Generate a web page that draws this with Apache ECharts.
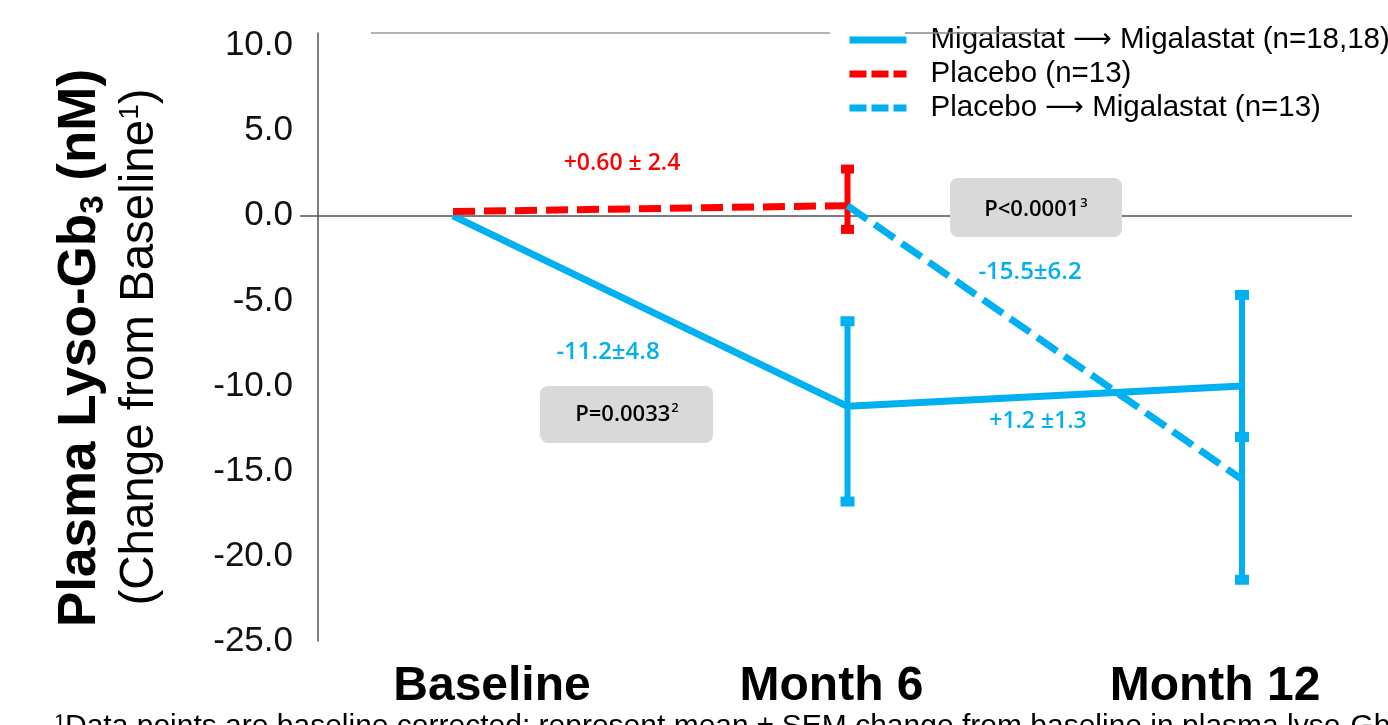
<!DOCTYPE html>
<html>
<head>
<meta charset="utf-8">
<title>Plasma Lyso-Gb3 change from baseline</title>
<script src="https://cdn.jsdelivr.net/npm/echarts@6/dist/echarts.min.js"></script>
<style>
  html, body { margin: 0; padding: 0; background: #ffffff; }
  #chart { width: 1388px; height: 725px; }
</style>
</head>
<body>
<div id="chart"></div>
<script>
// Visits on the x axis (positions 0, 1, 2)
const visits = ['Baseline', 'Month 6', 'Month 12'];
const visitPos = [0, 1, 2];

// Series names
const seriesNames = [
  'Migalastat \u2192 Migalastat (n=18,18)',
  'Placebo (n=13)',
  'Placebo \u2192 Migalastat (n=13)'
];

// Mean change from baseline (nM)
const migMig = [0, -11.2, -10.0];          // Baseline, Month 6, Month 12
const placebo = [0.25, 0.6];               // Baseline, Month 6
const placeboMig = [0.6, -15.5];           // Month 6, Month 12

// Error bar extents [low, high]
const migMigErr = [null, [-16.8, -6.2], [-13.0, -4.65]];
const placeboErr = [null, [-0.8, 2.75]];
const placeboMigErr = [null, [-21.4, -13.0]];

// Y axis ticks
const yMin = -25, yMax = 10.75, yStep = 5;

// Annotation texts
const changeLabels = ['+0.60 \u00b1 2.4', '-11.2\u00b14.8', '+1.2 \u00b11.3', '-15.5\u00b16.2'];
const pLabels = [['P=0.0033', '2'], ['P<0.0001', '3']];
const footnote = '\u00b9Data points are baseline corrected; represent mean \u00b1 SEM change from baseline in plasma lyso-Gb\u2083 levels';

const BLUE = '#00B0F0';
const RED = '#FF0000';
const FONT = '"Liberation Sans", Arial, sans-serif';
const LABEL_FONT = '"Open Sans", "Liberation Sans", sans-serif';

function pairs(xs, ys) { return ys.map((v, i) => [xs[i], v]); }
function errData(xs, errs) {
  const out = [];
  errs.forEach((e, i) => { if (e) out.push([xs[i], e[0], e[1]]); });
  return out;
}

function errorBar(color, capW, capH, lw) {
  return function (params, api) {
    const x = api.value(0);
    const lo = api.coord([x, api.value(1)]);
    const hi = api.coord([x, api.value(2)]);
    return {
      type: 'group',
      children: [
        { type: 'line', shape: { x1: lo[0], y1: lo[1], x2: hi[0], y2: hi[1] }, style: { stroke: color, lineWidth: lw } },
        { type: 'rect', shape: { x: hi[0] - capW / 2, y: hi[1] - capH / 2, width: capW, height: capH }, style: { fill: color } },
        { type: 'rect', shape: { x: lo[0] - capW / 2, y: lo[1] - capH / 2, width: capW, height: capH }, style: { fill: color } }
      ]
    };
  };
}

const chart = echarts.init(document.getElementById('chart'), null, { renderer: 'canvas' });

const pxPerUnit = 394.5;
const gridLeft = 300, gridRight = 36;
const xMin = -(453 - gridLeft) / pxPerUnit;
const xMax = xMin + (1388 - gridLeft - gridRight) / pxPerUnit;

// Per-label shifts of the visit names (rich-text padding)
const visitRich = {
  v0: { fontSize: 48, fontWeight: 'bold', fontFamily: FONT, color: '#000', padding: [0, 0, 0, 78] },
  v1: { fontSize: 48, fontWeight: 'bold', fontFamily: FONT, color: '#000', padding: [0, 32, 0, 0] },
  v2: { fontSize: 48, fontWeight: 'bold', fontFamily: FONT, color: '#000', padding: [0, 54, 0, 0] }
};

const legendDash = [17, 5];

const option = {
  animation: false,
  backgroundColor: '#ffffff',
  grid: { left: gridLeft, right: gridRight, top: 33, bottom: 725 - 641 },
  legend: {
    orient: 'vertical',
    left: 841,
    top: 18,
    itemWidth: 57,
    itemHeight: 20,
    itemGap: 0,
    itemStyle: { opacity: 0 },
    lineStyle: { width: 7 },
    formatter: function (name) { return name.split('\u2192').join('{a|\u27F6}'); },
    textStyle: {
      fontSize: 29.5, fontFamily: FONT, color: '#000', lineHeight: 34, padding: [0, 0, 0, 19],
      rich: { a: { fontSize: 27, fontFamily: '"DejaVu Sans", sans-serif', color: '#000', lineHeight: 34 } }
    },
    data: [
      { name: seriesNames[0] },
      { name: seriesNames[1], lineStyle: { type: legendDash, width: 7 } },
      { name: seriesNames[2], lineStyle: { type: legendDash, width: 7 } }
    ]
  },
  xAxis: {
    type: 'value',
    min: xMin,
    max: xMax,
    axisLine: { show: false, onZero: false },
    axisTick: { show: false },
    splitLine: { show: false },
    axisLabel: {
      customValues: visitPos,
      margin: 22,
      formatter: function (v) {
        const i = visitPos.indexOf(Math.round(v));
        return '{v' + i + '|' + visits[i] + '}';
      },
      rich: visitRich
    }
  },
  yAxis: {
    type: 'value',
    min: yMin,
    max: yMax,
    interval: yStep,
    offset: -18,
    axisLine: { show: true, onZero: false, lineStyle: { color: '#555555', width: 1.5 } },
    axisTick: { show: false },
    splitLine: { show: false },
    axisLabel: {
      margin: 25,
      fontSize: 35,
      fontFamily: FONT,
      color: '#111',
      formatter: function (v) { return (Math.abs(v % yStep) < 1e-9) ? v.toFixed(1) : ''; }
    }
  },
  series: [
    {
      name: seriesNames[0],
      type: 'line',
      data: pairs(visitPos, migMig),
      symbol: 'none',
      lineStyle: { color: BLUE, width: 7 },
      itemStyle: { color: BLUE },
      z: 3,
      markLine: {
        silent: true,
        symbol: 'none',
        label: { show: false },
        lineStyle: { color: '#505050', width: 1.5, type: 'solid' },
        data: [{ yAxis: 0 }],
        z: 1
      }
    },
    {
      name: seriesNames[1],
      type: 'line',
      data: pairs(visitPos, placebo),
      symbol: 'none',
      lineStyle: { color: RED, width: 7, type: [22, 9] },
      itemStyle: { color: RED },
      z: 3
    },
    {
      name: seriesNames[2],
      type: 'line',
      data: pairs(visitPos.slice(1), placeboMig),
      symbol: 'none',
      lineStyle: { color: BLUE, width: 7, type: [24, 9] },
      itemStyle: { color: BLUE },
      z: 4
    },
    {
      type: 'custom',
      renderItem: errorBar(BLUE, 14, 10, 6),
      data: errData(visitPos, migMigErr),
      encode: { x: 0, y: [1, 2] },
      z: 5
    },
    {
      type: 'custom',
      renderItem: errorBar(BLUE, 14, 10, 6),
      data: errData(visitPos.slice(1), placeboMigErr),
      encode: { x: 0, y: [1, 2] },
      z: 5
    },
    {
      type: 'custom',
      renderItem: errorBar(RED, 13, 9, 6),
      data: errData(visitPos, placeboErr),
      encode: { x: 0, y: [1, 2] },
      z: 3
    }
  ],
  graphic: [
    // frame line along the top of the plot
    { type: 'line', shape: { x1: 371, y1: 33, x2: 830, y2: 33 }, style: { stroke: '#9a9a9a', lineWidth: 1.5 }, z: 0 },
    { type: 'line', shape: { x1: 905, y1: 33, x2: 1047, y2: 33 }, style: { stroke: '#8a8a8a', lineWidth: 1.5 }, z: 100 },
    // y axis title (two lines, rotated)
    {
      type: 'text', x: 80, y: 348, rotation: Math.PI / 2,
      style: {
        text: '{b|Plasma Lyso-Gb}{bs|3}{b| (nM)}',
        align: 'center', verticalAlign: 'middle',
        rich: {
          b: { fontSize: 53, fontWeight: 'bold', fontFamily: FONT, fill: '#000' },
          bs: { fontSize: 33, fontWeight: 'bold', fontFamily: FONT, fill: '#000', padding: [27, 0, 0, 0] }
        }
      }
    },
    {
      type: 'text', x: 140, y: 347, rotation: Math.PI / 2,
      style: {
        text: '{r|(Change from Baseline}{rs|1}{r|)}',
        align: 'center', verticalAlign: 'middle',
        rich: {
          r: { fontSize: 47.5, fontFamily: FONT, fill: '#000' },
          rs: { fontSize: 28, fontFamily: FONT, fill: '#000', padding: [0, 0, 20, 0] }
        }
      }
    },
    // change annotations
    { type: 'text', x: 622, y: 163, style: { text: changeLabels[0], fill: RED, font: '600 23px ' + LABEL_FONT, align: 'center', verticalAlign: 'middle' }, z: 10 },
    { type: 'text', x: 608, y: 352, style: { text: changeLabels[1], fill: BLUE, font: '600 24px ' + LABEL_FONT, align: 'center', verticalAlign: 'middle' }, z: 10 },
    { type: 'text', x: 1038, y: 421, style: { text: changeLabels[2], fill: BLUE, font: '600 23px ' + LABEL_FONT, align: 'center', verticalAlign: 'middle' }, z: 10 },
    { type: 'text', x: 1030, y: 272, style: { text: changeLabels[3], fill: BLUE, font: '600 24px ' + LABEL_FONT, align: 'center', verticalAlign: 'middle' }, z: 10 },
    // p-value boxes
    { type: 'rect', shape: { x: 540, y: 386, width: 173, height: 57, r: 8 }, style: { fill: '#D9D9D9' }, z: 10 },
    {
      type: 'text', x: 627, y: 415, z: 11,
      style: {
        text: '{p|' + pLabels[0][0] + '}{s|' + pLabels[0][1] + '}', align: 'center', verticalAlign: 'middle',
        rich: {
          p: { fontSize: 22, fontWeight: 600, fontFamily: LABEL_FONT, fill: '#000' },
          s: { fontSize: 13, fontWeight: 600, fontFamily: LABEL_FONT, fill: '#000', padding: [0, 0, 14, 1] }
        }
      }
    },
    { type: 'rect', shape: { x: 950, y: 178, width: 172, height: 59, r: 8 }, style: { fill: '#D9D9D9' }, z: 10 },
    {
      type: 'text', x: 1036, y: 210, z: 11,
      style: {
        text: '{p|' + pLabels[1][0] + '}{s|' + pLabels[1][1] + '}', align: 'center', verticalAlign: 'middle',
        rich: {
          p: { fontSize: 22, fontWeight: 600, fontFamily: LABEL_FONT, fill: '#000' },
          s: { fontSize: 13, fontWeight: 600, fontFamily: LABEL_FONT, fill: '#000', padding: [0, 0, 14, 1] }
        }
      }
    },
    // footnote (runs off the bottom edge)
    { type: 'text', x: 55, y: 712, style: { text: footnote, fill: '#000', font: '30px ' + FONT, align: 'left', verticalAlign: 'top' } }
  ]
};

chart.setOption(option);
</script>
</body>
</html>
